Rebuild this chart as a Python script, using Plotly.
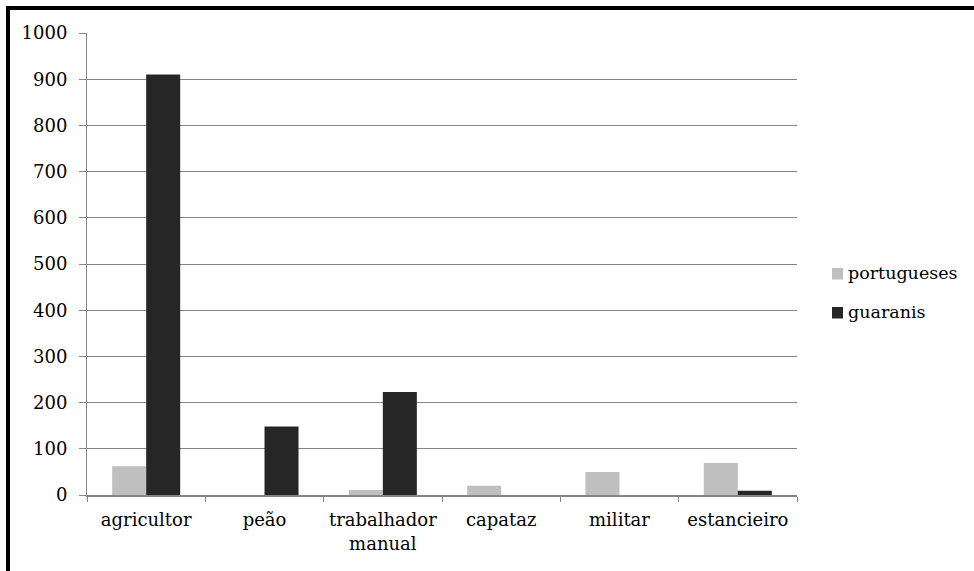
import plotly.graph_objects as go

# Occupations recorded for each group
categories = ["agricultor", "peão", "trabalhador<br>manual", "capataz", "militar", "estancieiro"]
series_names = ["portugueses", "guaranis"]
portugueses = [62, 0, 11, 20, 50, 69]
guaranis = [910, 148, 223, 0, 0, 9]
series_values = [portugueses, guaranis]
series_colors = ["#BFBFBF", "#262626"]
y_ticks = list(range(0, 1001, 100))

FONT = "DejaVu Serif"
GRID = "#868686"

W, H = 974, 571
L, R, T, B = 87, 177, 33, 76
plot_w = W - L - R
plot_h = H - T - B


def px_x(px):
    return (px - L) / plot_w


def px_y(py):
    return (H - B - py) / plot_h


fig = go.Figure()
for name, vals, col in zip(series_names, series_values, series_colors):
    fig.add_trace(go.Bar(
        x=categories, y=vals, name=name,
        marker=dict(color=col, line=dict(width=0)),
        showlegend=False,
    ))

shapes = [
    # frame: left and top edges
    dict(type="rect", xref="paper", yref="paper",
         x0=px_x(6), x1=px_x(10), y0=px_y(6), y1=px_y(H + 20),
         fillcolor="black", line=dict(width=0)),
    dict(type="rect", xref="paper", yref="paper",
         x0=px_x(6), x1=px_x(W + 20), y0=px_y(6), y1=px_y(10),
         fillcolor="black", line=dict(width=0)),
]
annotations = []

# legend on the right
for i, (name, col) in enumerate(zip(series_names, series_colors)):
    top = 268 + i * 39
    shapes.append(dict(type="rect", xref="paper", yref="paper",
                       x0=px_x(832), x1=px_x(843), y0=px_y(top), y1=px_y(top + 11.5),
                       fillcolor=col, line=dict(width=0)))
    annotations.append(dict(xref="paper", yref="paper", x=px_x(846), y=px_y(top + 5),
                            text=name, showarrow=False, xanchor="left", yanchor="middle",
                            font=dict(family=FONT, size=17.5, color="black")))

fig.update_layout(
    width=W, height=H,
    margin=dict(l=L, r=R, t=T, b=B, pad=0),
    paper_bgcolor="white", plot_bgcolor="white",
    barmode="group", bargap=0.425, bargroupgap=0,
    font=dict(family=FONT, size=17.5, color="black"),
    shapes=shapes, annotations=annotations,
    showlegend=False,
)
fig.update_xaxes(
    showline=True, linecolor=GRID, linewidth=1.5,
    ticks="outside", tickson="boundaries", ticklen=5, tickcolor=GRID, tickwidth=1,
    ticklabelstandoff=8,
    showgrid=False, tickfont=dict(family=FONT, size=18, color="black"),
)
fig.update_yaxes(
    range=[0, 1000], tickvals=y_ticks, ticktext=[str(v) for v in y_ticks],
    showline=True, linecolor=GRID, linewidth=1,
    ticks="outside", ticklen=7, tickcolor=GRID, tickwidth=1,
    ticklabelstandoff=8,
    showgrid=True, gridcolor=GRID, gridwidth=1, zeroline=False,
    tickfont=dict(family=FONT, size=18, color="black"),
)

fig.write_html("out.html")
